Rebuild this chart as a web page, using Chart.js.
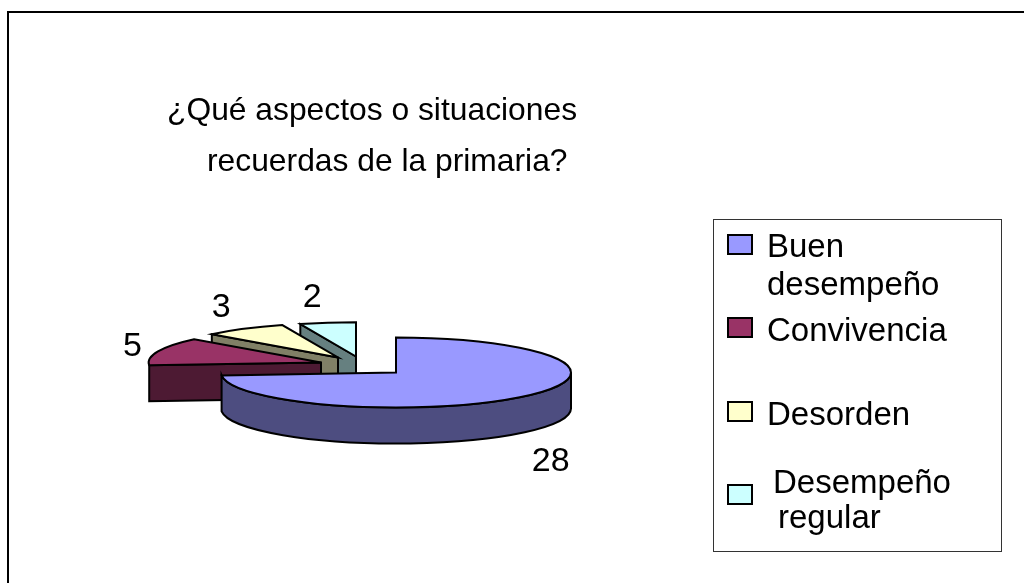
<!DOCTYPE html>
<html><head><meta charset="utf-8">
<style>html,body{margin:0;padding:0;background:#fff}#w{position:absolute;left:0;top:0;width:1024px;height:583px}</style>
<script src="https://cdn.jsdelivr.net/npm/chart.js@4"></script></head>
<body><div id="w"><canvas id="c" width="1024" height="583"></canvas></div>
<script>
const categories = ['Buen desempeño','Convivencia','Desorden','Desempeño regular'];
const values = [28,5,3,2];
const topColors = ['#9999FF','#993366','#FFFFCC','#CCFFFF'];
const wallColors = ['#4D4D80','#4D1A33','#808066','#668080'];
const titleLines = [['¿Qué aspectos o situaciones',167,120],['recuerdas de la primaria?',207,171]];
const legendLines = [['Buen',767,257],['desempeño',767,295],['Convivencia',767,341],['Desorden',767,425],['Desempeño',773,493],['regular',778,528]];
const legendSwatchY = [235,318,402,485];
const slideX = [0,-75,-58,-40];
const slideY = [0,-10,-15,-16];
const radiusScale = [1,0.985,0.98,0.98];
const labelDX = [26,-23,-21,-15];
const labelDY = [29,-5,-21,-24];
const tilt = 0.2, depth = 36, baseDY = 81.5;
const titleFont = '31.8px "Liberation Sans"', legendFont = '33px "Liberation Sans"', labelFont = '34px "Liberation Sans"';

const pie3d = {
  id:'pie3d',
  beforeDatasetDraw(chart){
    const ctx = chart.ctx, arcs = chart.getDatasetMeta(0).data;
    ctx.save();
    ctx.lineWidth = 2; ctx.lineJoin = 'miter'; ctx.strokeStyle = '#000';
    for (let i = arcs.length-1; i >= 0; i--){
      const a = arcs[i], s = a.startAngle, e = a.endAngle, rx = a.outerRadius*radiusScale[i], ry = rx*tilt;
      const cx = a.x+slideX[i], cy = a.y+baseDY+slideY[i];
      const px = t => cx+rx*Math.cos(t), py = t => cy+ry*Math.sin(t);
      if (i>0){
        ctx.beginPath(); ctx.moveTo(px(s),py(s)); ctx.lineTo(cx,cy); ctx.lineTo(cx,cy+depth); ctx.lineTo(px(s),py(s)+depth); ctx.closePath();
        ctx.fillStyle = wallColors[i]; ctx.fill(); ctx.stroke();
      }
      const f0 = Math.max(s,0), f1 = Math.min(e,Math.PI);
      if (f1-f0>0.2){
        ctx.beginPath(); ctx.ellipse(cx,cy,rx,ry,0,f0,f1); ctx.lineTo(px(f1),py(f1)+depth);
        ctx.ellipse(cx,cy+depth,rx,ry,0,f1,f0,true); ctx.closePath();
        ctx.fillStyle = wallColors[i]; ctx.fill(); ctx.stroke();
      }
      ctx.beginPath(); ctx.moveTo(cx,cy); ctx.ellipse(cx,cy,rx,ry,0,s,e); ctx.closePath();
      ctx.fillStyle = topColors[i]; ctx.fill(); ctx.stroke();
    }
    ctx.restore();
    return false;
  },
  afterDraw(chart){
    const ctx = chart.ctx, arcs = chart.getDatasetMeta(0).data;
    ctx.save();
    ctx.strokeStyle='#000'; ctx.lineWidth=2;
    ctx.beginPath(); ctx.moveTo(8,583); ctx.lineTo(8,12); ctx.lineTo(1024,12); ctx.stroke();
    ctx.strokeStyle='#333'; ctx.lineWidth=1; ctx.strokeRect(713.5,219.5,288,332);
    ctx.fillStyle='#000'; ctx.textBaseline='alphabetic'; ctx.textAlign='left';
    ctx.font=titleFont; titleLines.forEach(l=>ctx.fillText(l[0],l[1],l[2]));
    ctx.font=legendFont; legendLines.forEach(l=>ctx.fillText(l[0],l[1],l[2]));
    legendSwatchY.forEach((y,i)=>{ctx.fillStyle=topColors[i];ctx.lineWidth=2;ctx.strokeStyle='#000';ctx.fillRect(728,y,24,19);ctx.strokeRect(728,y,24,19);});
    ctx.fillStyle='#000'; ctx.textAlign='center';ctx.textBaseline='middle'; ctx.font=labelFont;
    arcs.forEach((a,i)=>{
      const m=(a.startAngle+a.endAngle)/2, rx=a.outerRadius, ry=rx*tilt;
      const x=a.x+slideX[i]+rx*Math.cos(m)+labelDX[i];
      const y=a.y+baseDY+slideY[i]+ry*Math.sin(m)+(i===0?depth:0)+labelDY[i];
      ctx.fillText(String(values[i]),x,y);
    });
    ctx.restore();
  }
};
new Chart(document.getElementById('c'),{
  type:'pie',
  data:{labels:categories,datasets:[{data:values,backgroundColor:topColors,borderWidth:0}]},
  options:{responsive:false,animation:false,
    layout:{padding:{left:221,right:453,top:116,bottom:117}},
    plugins:{legend:{display:false},tooltip:{enabled:false},title:{display:false}}},
  plugins:[pie3d]
});
</script></body></html>
